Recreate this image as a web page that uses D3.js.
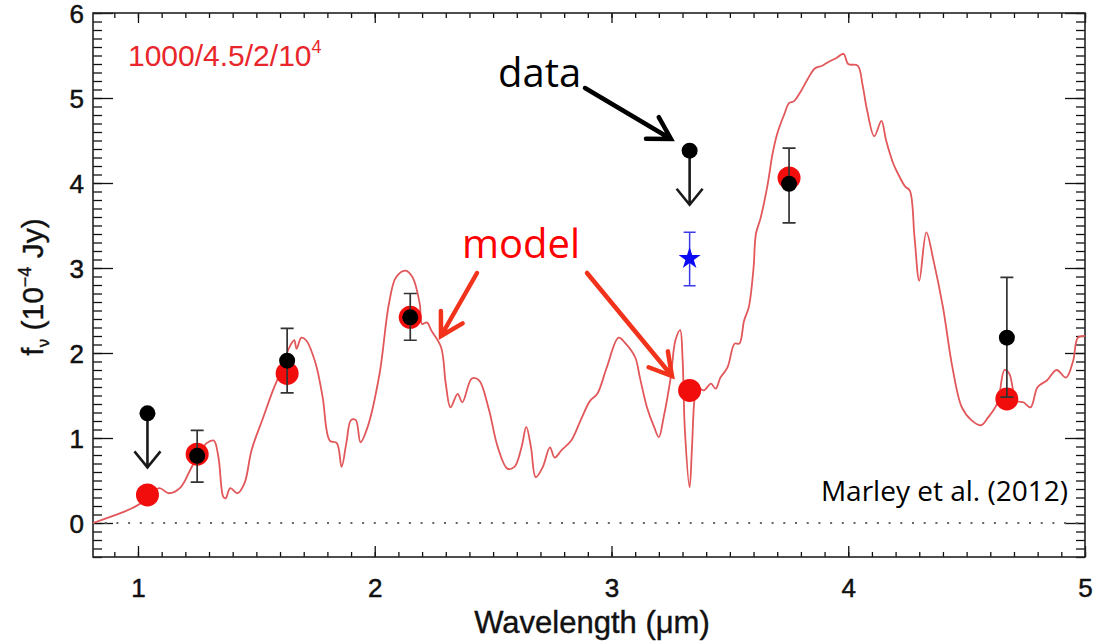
<!DOCTYPE html>
<html>
<head>
<meta charset="utf-8">
<script src="https://cdn.jsdelivr.net/npm/d3@7"></script>
<style>
body{margin:0;background:#fff;}
svg{display:block;}
</style>
</head>
<body>
<svg id="chart" width="1095" height="642"></svg>
<script>
// model spectrum
var wave = [0.81,0.88,0.94,1.01,1.04,1.09,1.13,1.18,1.22,1.25,1.29,1.32,1.34,1.36,1.37,1.39,1.42,1.45,1.48,1.53,
  1.57,1.60,1.64,1.66,1.67,1.69,1.71,1.75,1.78,1.81,1.84,1.86,1.88,1.90,1.92,1.94,1.97,2.02,2.06,2.09,
  2.13,2.16,2.19,2.20,2.22,2.24,2.28,2.30,2.32,2.35,2.37,2.41,2.44,2.48,2.52,2.56,2.59,2.62,2.64,2.66,
  2.68,2.71,2.74,2.76,2.79,2.83,2.87,2.91,2.94,2.98,3.03,3.06,3.10,3.12,3.15,3.18,3.20,3.22,3.25,3.27,
  3.29,3.30,3.31,3.33,3.34,3.35,3.36,3.39,3.42,3.44,3.46,3.49,3.52,3.54,3.56,3.58,3.60,3.61,3.63,3.66,
  3.68,3.70,3.73,3.75,3.77,3.80,3.83,3.86,3.89,3.92,3.95,3.98,4.00,4.04,4.06,4.08,4.11,4.14,4.16,4.19,
  4.21,4.24,4.26,4.28,4.30,4.33,4.36,4.40,4.44,4.48,4.52,4.56,4.59,4.63,4.66,4.68,4.71,4.74,4.77,4.80,
  4.84,4.88,4.92,4.95,4.97,5.00];
var flux = [0.00,0.07,0.13,0.23,0.31,0.41,0.35,0.42,0.62,0.78,0.94,0.97,0.77,0.31,0.29,0.41,0.35,0.47,0.86,1.25,
  1.56,1.76,2.07,2.15,2.05,2.18,2.15,1.88,1.48,0.97,0.94,0.66,0.94,1.21,1.21,0.95,1.13,1.75,2.58,2.89,
  2.97,2.89,2.58,2.34,2.36,2.26,2.07,1.64,1.36,1.52,1.42,1.70,1.68,1.36,0.89,0.64,0.66,0.89,1.13,0.89,
  0.54,0.66,0.89,0.77,0.86,0.97,1.21,1.44,1.52,1.83,2.18,2.11,1.95,1.71,1.36,1.13,1.01,1.24,1.71,2.15,
  2.27,1.95,1.09,0.42,0.89,1.44,1.60,1.56,1.64,1.58,1.71,1.83,2.11,2.11,2.38,2.54,3.00,3.40,3.59,3.99,
  4.34,4.58,4.81,4.94,4.96,5.08,5.23,5.35,5.38,5.43,5.47,5.52,5.40,5.38,5.16,4.85,4.55,4.73,4.50,4.23,
  4.11,3.96,3.91,3.36,2.85,3.42,3.09,2.54,1.83,1.36,1.21,1.15,1.24,1.41,1.80,1.76,1.44,1.42,1.36,1.60,
  1.68,1.80,1.71,1.91,2.18,2.20];

// model photometry (red) and measured photometry (black)
var ptWave = [1.04, 1.25, 1.63, 2.15, 3.33, 3.75, 4.67];
var ptModel = [0.33, 0.81, 1.76, 2.42, 1.56, 4.06, 1.46];
var obsWave = [1.25, 1.63, 2.15, 3.75, 4.67];
var obsFlux = [0.79, 1.91, 2.42, 3.99, 2.18];
var obsLo = [0.48, 1.53, 2.15, 3.53, 1.48];
var obsHi = [1.09, 2.29, 2.70, 4.41, 2.89];
var limWave = [1.04, 3.33];
var limFlux = [1.29, 4.38];
var starWave = [3.33], starFlux = [3.11], starLo = [2.79], starHi = [3.42];

var xTicks = [1, 2, 3, 4, 5];
var yTicks = [0, 1, 2, 3, 4, 5, 6];

var padL = 93, padT = 13, padR = 1085, padB = 557;
var svg = d3.select('#chart');
var x = d3.scaleLinear().domain([0.81, 5]).range([padL, padR]);
var y = d3.scaleLinear().domain([-0.4, 6]).range([padB, padT]);
var axisFont = '"Liberation Sans", Arial, sans-serif';

// ticks, all pointing in
var minorX = d3.range(9, 51).map(function(d){ return d / 10; });
var minorY = d3.range(-4, 61).map(function(d){ return d / 10; });

function addAxis(ax, tx, ty){
  return svg.append('g').attr('transform', 'translate(' + tx + ',' + ty + ')').call(ax)
    .call(function(g){ g.select('.domain').remove(); g.selectAll('line').attr('stroke', '#111').attr('stroke-width', 1.3); });
}
addAxis(d3.axisBottom(x).tickValues(minorX).tickSize(-5).tickSizeOuter(0).tickFormat(''), 0, padB);
addAxis(d3.axisTop(x).tickValues(minorX).tickSize(-5).tickSizeOuter(0).tickFormat(''), 0, padT);
addAxis(d3.axisLeft(y).tickValues(minorY).tickSize(-9).tickSizeOuter(0).tickFormat(''), padL, 0);
addAxis(d3.axisRight(y).tickValues(minorY).tickSize(-9).tickSizeOuter(0).tickFormat(''), padR, 0);
addAxis(d3.axisTop(x).tickValues(xTicks).tickSize(-10).tickSizeOuter(0).tickFormat(''), 0, padT);
addAxis(d3.axisRight(y).tickValues(yTicks).tickSize(-20).tickSizeOuter(0).tickFormat(''), padR, 0);

var xb = addAxis(d3.axisBottom(x).tickValues(xTicks).tickSize(-11).tickSizeOuter(0).tickPadding(22).tickFormat(d3.format('d')), 0, padB);
xb.selectAll('text').style('font-family', axisFont).style('font-size', '26px').attr('fill', '#111')
  .attr('stroke', '#111').attr('stroke-width', 0.5);
var yl = addAxis(d3.axisLeft(y).tickValues(yTicks).tickSize(-20).tickSizeOuter(0).tickPadding(9).tickFormat(d3.format('d')), padL, 0);
yl.selectAll('text').style('font-family', axisFont).style('font-size', '26px').attr('fill', '#111').attr('dy', '0.38em')
  .attr('stroke', '#111').attr('stroke-width', 0.5);

// frame
svg.append('rect').attr('x', padL).attr('y', padT).attr('width', padR - padL).attr('height', padB - padT)
  .attr('fill', 'none').attr('stroke', '#222').attr('stroke-width', 1.6);

// zero line
svg.append('line').attr('x1', padL).attr('x2', padR).attr('y1', y(0)).attr('y2', y(0))
  .attr('stroke', '#666').attr('stroke-width', 2).attr('stroke-dasharray', '2,9.7');

// spectrum
var spec = wave.map(function(w, i){ return [w, flux[i]]; });
svg.append('path').datum(spec)
  .attr('d', d3.line().x(function(d){ return x(d[0]); }).y(function(d){ return y(d[1]); }).curve(d3.curveCatmullRom.alpha(0.5)))
  .attr('fill', 'none').attr('stroke', '#e2575a').attr('stroke-width', 1.8);

// model points
svg.selectAll('.mpt').data(ptWave).enter().append('circle').attr('class', 'mpt')
  .attr('cx', function(d){ return x(d); }).attr('cy', function(d, i){ return y(ptModel[i]); })
  .attr('r', 11.5).attr('fill', '#f20d0d');

// error bars
var eb = svg.selectAll('.eb').data(obsWave).enter().append('g').attr('class', 'eb');
eb.append('path').attr('d', function(d, i){
    var cx = x(d), y1 = y(obsLo[i]), y2 = y(obsHi[i]);
    return 'M' + cx + ',' + y1 + 'V' + y2 + 'M' + (cx - 6.5) + ',' + y1 + 'H' + (cx + 6.5) + 'M' + (cx - 6.5) + ',' + y2 + 'H' + (cx + 6.5);
  }).attr('fill', 'none').attr('stroke', '#333').attr('stroke-width', 1.7);
eb.append('circle').attr('cx', function(d){ return x(d); }).attr('cy', function(d, i){ return y(obsFlux[i]); })
  .attr('r', 8).attr('fill', '#000');

// upper limits
var ul = svg.selectAll('.ul').data(limWave).enter().append('g').attr('class', 'ul');
ul.append('path').attr('d', function(d, i){
    var cx = x(d), cy = y(limFlux[i]), tip = cy + 54;
    return 'M' + cx + ',' + cy + 'V' + tip + 'M' + (cx - 13) + ',' + (tip - 16) + 'L' + cx + ',' + tip + 'L' + (cx + 13) + ',' + (tip - 16);
  }).attr('fill', 'none').attr('stroke', '#1a1a1a').attr('stroke-width', 2.6);
ul.append('circle').attr('cx', function(d){ return x(d); }).attr('cy', function(d, i){ return y(limFlux[i]); })
  .attr('r', 8).attr('fill', '#000');

// blue star with its bar
var st = svg.selectAll('.st').data(starWave).enter().append('g').attr('class', 'st');
st.append('path').attr('d', function(d, i){
    var cx = x(d), y1 = y(starLo[i]), y2 = y(starHi[i]);
    return 'M' + cx + ',' + y1 + 'V' + y2 + 'M' + (cx - 6) + ',' + y1 + 'H' + (cx + 6) + 'M' + (cx - 6) + ',' + y2 + 'H' + (cx + 6);
  }).attr('fill', 'none').attr('stroke', '#3b3bea').attr('stroke-width', 1.5);
st.append('path').attr('d', d3.symbol(d3.symbolStar).size(150))
  .attr('transform', function(d, i){ return 'translate(' + x(d) + ',' + y(starFlux[i]) + ')'; })
  .attr('fill', '#0a0af5');

// axis titles
svg.append('text').attr('x', 592).attr('y', 633).attr('text-anchor', 'middle')
  .style('font-family', axisFont).style('font-size', '31px').attr('fill', '#111')
  .attr('stroke', '#111').attr('stroke-width', 0.4)
  .text('Wavelength (\u03bcm)');
var yt = svg.append('text').attr('transform', 'translate(43,287) rotate(-90)').attr('text-anchor', 'middle')
  .style('font-family', axisFont).style('font-size', '30px').attr('fill', '#111')
  .attr('stroke', '#111').attr('stroke-width', 0.4);
yt.append('tspan').text('f');
yt.append('tspan').attr('dy', 6).style('font-size', '17px').text('\u03bd');
yt.append('tspan').attr('dy', -6).text(' (10');
yt.append('tspan').attr('dy', -12).style('font-size', '18px').text('\u22124');
yt.append('tspan').attr('dy', 12).text(' Jy)');

// model label
var lab = svg.append('text').attr('x', 128).attr('y', 66)
  .style('font-family', axisFont).style('font-size', '30px').attr('fill', '#e8262b');
lab.append('tspan').text('1000/4.5/2/10');
lab.append('tspan').attr('dy', -13).style('font-size', '18px').text('4');

// annotations
var noteFont = '"Open Sans", sans-serif';
function arrow(x1, y1, x2, y2, color, w, head, ang){
  var a = Math.atan2(y2 - y1, x2 - x1), s = ang * Math.PI / 180;
  var p = 'M' + x1 + ',' + y1 + 'L' + x2 + ',' + y2 +
    'M' + (x2 - head * Math.cos(a - s)) + ',' + (y2 - head * Math.sin(a - s)) + 'L' + x2 + ',' + y2 +
    'L' + (x2 - head * Math.cos(a + s)) + ',' + (y2 - head * Math.sin(a + s));
  svg.append('path').attr('d', p).attr('fill', 'none').attr('stroke', color)
    .attr('stroke-width', w).attr('stroke-linecap', 'round').attr('stroke-linejoin', 'miter');
}
svg.append('text').attr('x', 498).attr('y', 87).style('font-family', noteFont).style('font-size', '40px')
  .attr('fill', '#000').text('data');
arrow(585, 88, 671, 139, '#000', 4.5, 25, 30);
svg.append('text').attr('x', 462).attr('y', 258).style('font-family', noteFont).style('font-size', '40px')
  .attr('fill', '#ff0000').text('model');
arrow(477, 273, 441, 336, '#f2331c', 4.5, 25, 30);
arrow(587, 273, 672, 376, '#f2331c', 4.5, 25, 30);
svg.append('text').attr('x', 1068).attr('y', 501).attr('text-anchor', 'end')
  .style('font-family', noteFont).style('font-size', '28px').attr('fill', '#000').text('Marley et al. (2012)');
</script>
</body>
</html>
